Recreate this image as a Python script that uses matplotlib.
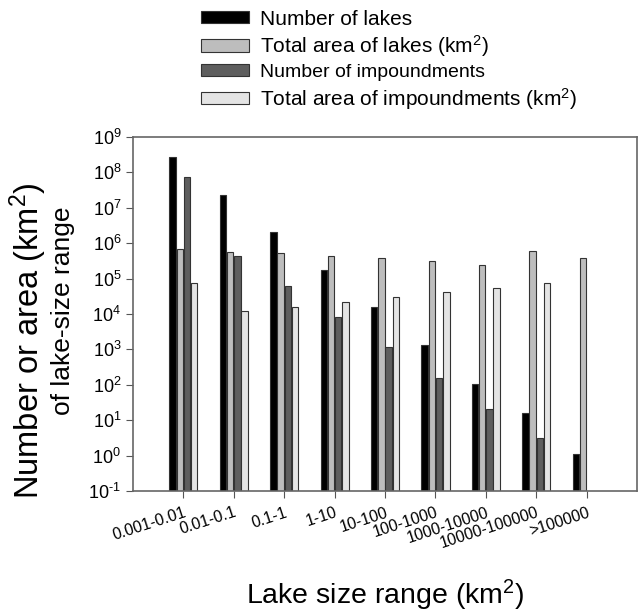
import numpy as np
import matplotlib
matplotlib.use("Agg")
import matplotlib.pyplot as plt
from matplotlib.ticker import FuncFormatter

plt.rcParams["font.family"] = ["Liberation Sans", "DejaVu Sans"]
plt.rcParams["mathtext.fontset"] = "custom"
plt.rcParams["mathtext.rm"] = "Liberation Sans"
plt.rcParams["mathtext.it"] = "Liberation Sans:italic"
plt.rcParams["mathtext.default"] = "regular"
plt.rcParams["axes.unicode_minus"] = False

# lake size classes (km2)
size_ranges = ["0.001-0.01", "0.01-0.1", "0.1-1", "1-10", "10-100", "100-1000",
               "1000-10000", "10000-100000", ">100000"]

# values
n_lakes = [2.7e8, 2.3e7, 2.1e6, 1.8e5, 1.6e4, 1.3e3, 105, 16, 1]
area_lakes = [6.9e5, 5.8e5, 5.2e5, 4.4e5, 3.9e5, 3.2e5, 2.5e5, 5.9e5, 3.7e5]
n_imp = [7.4e7, 4.4e5, 6.0e4, 8.3e3, 1.15e3, 155, 21, 3, np.nan]
area_imp = [7.5e4, 1.2e4, 1.6e4, 2.2e4, 3.1e4, 4.1e4, 5.5e4, 7.6e4, np.nan]

labels = ["Number of lakes", "Total area of lakes (km$^2$)",
          "Number of impoundments", "Total area of impoundments (km$^2$)"]
colors = ["#000000", "#bdbdbd", "#5e5e5e", "#e4e4e4"]

W, H = 641, 613
fig = plt.figure(figsize=(W / 100, H / 100), dpi=100)
ax = fig.add_axes([0.2075, 0.199, 0.7863, 0.5775])

x = np.arange(len(size_ranges))
pitch = 0.143
width = 0.13
series = [n_lakes, area_lakes, n_imp, area_imp]
for i, vals in enumerate(series):
    ax.bar(x + (i - 1.5) * pitch, vals, width=width, bottom=0.1,
           color=colors[i], edgecolor="#333333", linewidth=0.8, label=labels[i])


def pow10(v, pos):
    k = int(round(np.log10(v)))
    if k < 0:
        return "10$^{\\text{-}%d}$" % (-k)
    return "10$^{%d}$" % k


ax.set_yscale("log")
ax.set_ylim(0.1, 1e9)
ax.set_xlim(-1, 9)
ax.set_yticks([10.0 ** k for k in range(-1, 10)])
ax.yaxis.set_major_formatter(FuncFormatter(pow10))
ax.minorticks_off()
ax.set_xticks(x)
ax.set_xticklabels(size_ranges, rotation=18, ha="right", rotation_mode="anchor",
                   fontsize=11.5)
ax.tick_params(axis="y", labelsize=13, direction="out", length=5, color="#555555")
ax.tick_params(axis="x", direction="out", length=5, color="#555555", pad=5)
for s in ax.spines.values():
    s.set_color("#666666")
    s.set_linewidth(1.2)

ax.set_xlabel("Lake size range (km$^2$)", fontsize=20.5)
ax.xaxis.set_label_coords(0.5, -0.319)
ax.xaxis.label.set_va("baseline")

# two-line y label, the lines are not the same size in the original
fig.text(39 / W, 1 - 341 / H, "Number or area (km$^2$)", rotation=90,
         rotation_mode="anchor", ha="center", va="baseline", fontsize=23.5)
fig.text(70 / W, 1 - 311 / H, "of lake-size range", rotation=90,
         rotation_mode="anchor", ha="center", va="baseline", fontsize=19)

leg = fig.legend(loc="upper left", bbox_to_anchor=(0.284, 1.015), frameon=False,
                 fontsize=15, handlelength=2.3, handleheight=0.55,
                 labelspacing=0.22, handletextpad=0.55)
leg.get_texts()[2].set_fontsize(14)

fig.savefig("out.png", dpi=100)
